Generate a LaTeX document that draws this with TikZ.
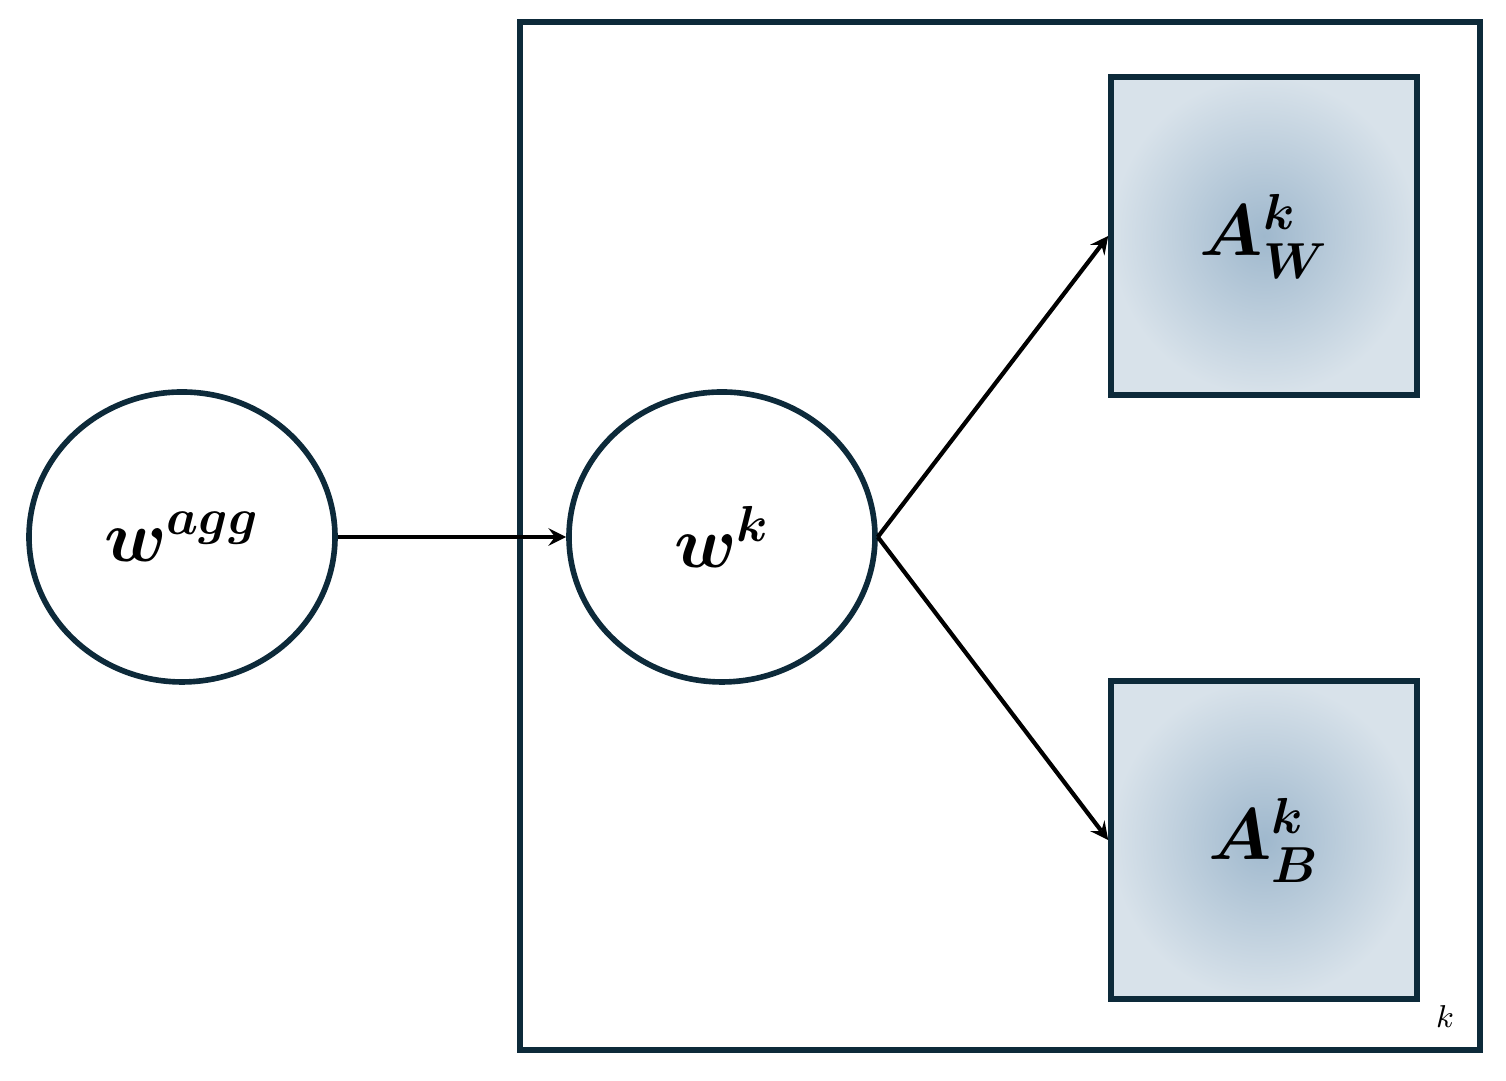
\documentclass[tikz,border=0pt]{standalone}
\usepackage{amssymb,amsmath}
\usetikzlibrary{positioning,shapes.geometric}
\definecolor{navy}{HTML}{0D2A3A}
\definecolor{inner}{HTML}{9FB8CD}
\definecolor{outer}{HTML}{D8E2EA}
\tikzset{
  var/.style={draw=navy,line width=1.6pt,ellipse,minimum width=3.06cm,minimum height=2.90cm,font=\fontsize{22}{26}\selectfont},
  obs/.style={draw=navy,line width=1.6pt,rectangle,minimum width=3.06cm,minimum height=3.18cm,inner color=inner,outer color=outer,font=\fontsize{22}{26}\selectfont},
  edge/.style={->,>=stealth,line width=1.2pt,black}
}
\begin{document}
\begin{tikzpicture}
\useasboundingbox (0,0) rectangle (15.06,10.81);
\node (plate) [draw=navy,line width=1.6pt,minimum width=9.6cm,minimum height=10.28cm] at (10.00,5.45) {};
\node (k) at (14.45,0.64) {\small $k$};

\node (wagg) at (1.82,5.44) [var] {$\boldsymbol{w^{agg}}$};
\node (wk) at (7.22,5.44) [var] {$\boldsymbol{w^{k}}$};
\node (aw) at (12.64,8.45) [obs] {$\boldsymbol{A_W^k}$};
\node (ab) at (12.64,2.41) [obs] {$\boldsymbol{A_B^k}$};

\draw [edge] (wagg) -- (wk);
\draw [edge] (wk.east) -- (aw.west);
\draw [edge] (wk.east) -- (ab.west);
\end{tikzpicture}
\end{document}
